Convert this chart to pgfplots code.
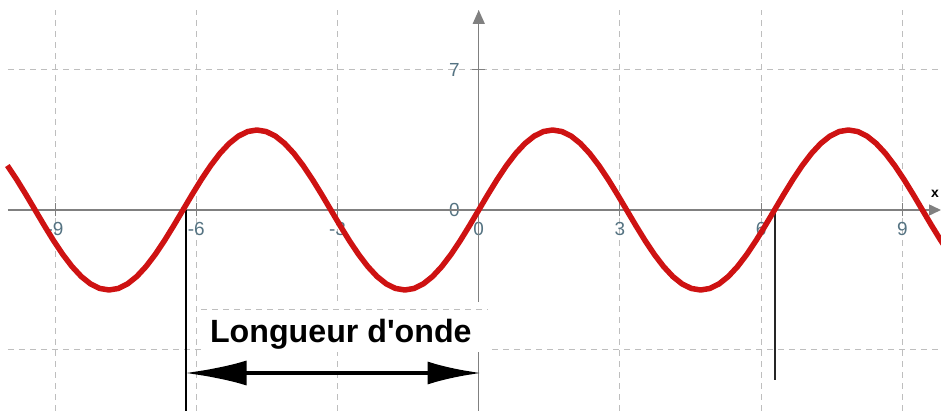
\documentclass[border=0pt]{standalone}
\usepackage{pgfplots}
\pgfplotsset{compat=1.18}
\usetikzlibrary{arrows.meta}
\usepackage{fontspec}
\setmainfont{Liberation Sans}
\definecolor{wave}{RGB}{206,18,18}
\definecolor{axisgray}{RGB}{128,128,128}
\definecolor{gridgray}{RGB}{190,190,190}
\definecolor{ticklab}{RGB}{85,115,130}
\begin{document}
\begin{tikzpicture}
\begin{axis}[
  scale only axis, width=933bp, height=401bp,
  xmin=-10.0, xmax=9.82, ymin=-10.05, ymax=10.0,
  axis lines=middle,
  axis line style={draw=none},
  hide obscured x ticks=false, hide obscured y ticks=false,
  xtick={-9,-6,-3,0,3,6,9},
  ytick={-7,0,7}, yticklabels={,0,7},
  grid=major,
  major grid style={gridgray, line width=1bp, dash pattern=on 6bp off 5bp},
  major tick style={axisgray, line width=1bp},
  tick align=center, major tick length=13bp,
  /pgf/number format/assume math mode=true,
  ticklabel style={font=\fontsize{19}{19}\selectfont, text=ticklab},
  xticklabel style={anchor=north, yshift=-2bp},
  yticklabel style={anchor=east, xshift=-9bp},
  clip=false,
]
\coordinate (SW) at (rel axis cs:0,0);
\coordinate (NE) at (rel axis cs:1,1);
\draw[axisgray, line width=1.5bp, -{Triangle[length=12bp,width=11bp]}] (axis cs:-10,0) -- (axis cs:9.82,0);
\draw[axisgray, line width=1.5bp, -{Triangle[length=14bp,width=12bp]}] (axis cs:0,-10.05) -- (axis cs:0,10);
\fill[white] (axis cs:-5.9,-4.6) rectangle (axis cs:0.2,-7.1);
\draw[gridgray, line width=1bp, dash pattern=on 6bp off 5bp] (axis cs:-5.9,-5) -- (axis cs:0.2,-5);
\draw[black, line width=2bp] (axis cs:-6.22,0) -- (axis cs:-6.22,-10.05);
\draw[black!85, line width=2bp] (axis cs:6.29,0) -- (axis cs:6.29,-8.5);
\draw[black, line width=4.5bp, {Latex[length=62bp,width=25bp]}-{Latex[length=54bp,width=23bp]}] (axis cs:-6.25,-8.15) -- (axis cs:0.06,-8.15);
\node[anchor=base, font=\bfseries\fontsize{32.3}{33}\selectfont] at (axis cs:-2.93,-6.65) {Longueur d\textquotesingle onde};
\node[anchor=base, font=\bfseries\fontsize{14}{14}\selectfont] at (axis cs:9.69,0.6) {x};
\addplot[wave, line width=5.5bp, line join=round] coordinates {
(-10.0138,2.2223) (-9.8175,1.5307) (-9.6211,0.7804) (-9.4248,0) (-9.2284,-0.7804)
(-9.0321,-1.5307) (-8.8357,-2.2223) (-8.6394,-2.8284) (-8.4430,-3.3259) (-8.2467,-3.6955)
(-8.0503,-3.9231) (-7.8540,-4) (-7.6576,-3.9231) (-7.4613,-3.6955) (-7.2649,-3.3259)
(-7.0686,-2.8284) (-6.8722,-2.2223) (-6.6759,-1.5307) (-6.4795,-0.7804) (-6.2832,0)
(-6.0868,0.7804) (-5.8905,1.5307) (-5.6941,2.2223) (-5.4978,2.8284) (-5.3014,3.3259)
(-5.1051,3.6955) (-4.9087,3.9231) (-4.7124,4) (-4.5160,3.9231) (-4.3197,3.6955)
(-4.1233,3.3259) (-3.9270,2.8284) (-3.7306,2.2223) (-3.5343,1.5307) (-3.3379,0.7804)
(-3.1416,0) (-2.9452,-0.7804) (-2.7489,-1.5307) (-2.5525,-2.2223) (-2.3562,-2.8284)
(-2.1598,-3.3259) (-1.9635,-3.6955) (-1.7671,-3.9231) (-1.5708,-4) (-1.3744,-3.9231)
(-1.1781,-3.6955) (-0.9817,-3.3259) (-0.7854,-2.8284) (-0.5890,-2.2223) (-0.3927,-1.5307)
(-0.1963,-0.7804) (0,0)
(0.1963,0.7804) (0.3927,1.5307) (0.5890,2.2223) (0.7854,2.8284) (0.9817,3.3259)
(1.1781,3.6955) (1.3744,3.9231) (1.5708,4) (1.7671,3.9231) (1.9635,3.6955)
(2.1598,3.3259) (2.3562,2.8284) (2.5525,2.2223) (2.7489,1.5307) (2.9452,0.7804)
(3.1416,0) (3.3379,-0.7804) (3.5343,-1.5307) (3.7306,-2.2223) (3.9270,-2.8284)
(4.1233,-3.3259) (4.3197,-3.6955) (4.5160,-3.9231) (4.7124,-4) (4.9087,-3.9231)
(5.1051,-3.6955) (5.3014,-3.3259) (5.4978,-2.8284) (5.6941,-2.2223) (5.8905,-1.5307)
(6.0868,-0.7804) (6.2832,0) (6.4795,0.7804) (6.6759,1.5307) (6.8722,2.2223)
(7.0686,2.8284) (7.2649,3.3259) (7.4613,3.6955) (7.6576,3.9231) (7.8540,4)
(8.0503,3.9231) (8.2467,3.6955) (8.4430,3.3259) (8.6394,2.8284) (8.8357,2.2223)
(9.0321,1.5307) (9.2284,0.7804) (9.4248,0) (9.6211,-0.7804) (9.8175,-1.5307)
(10.0138,-2.2223)
};
\end{axis}
\pgfresetboundingbox
\useasboundingbox ([xshift=-8bp]SW) rectangle ([yshift=10bp]NE);
\end{tikzpicture}
\end{document}
